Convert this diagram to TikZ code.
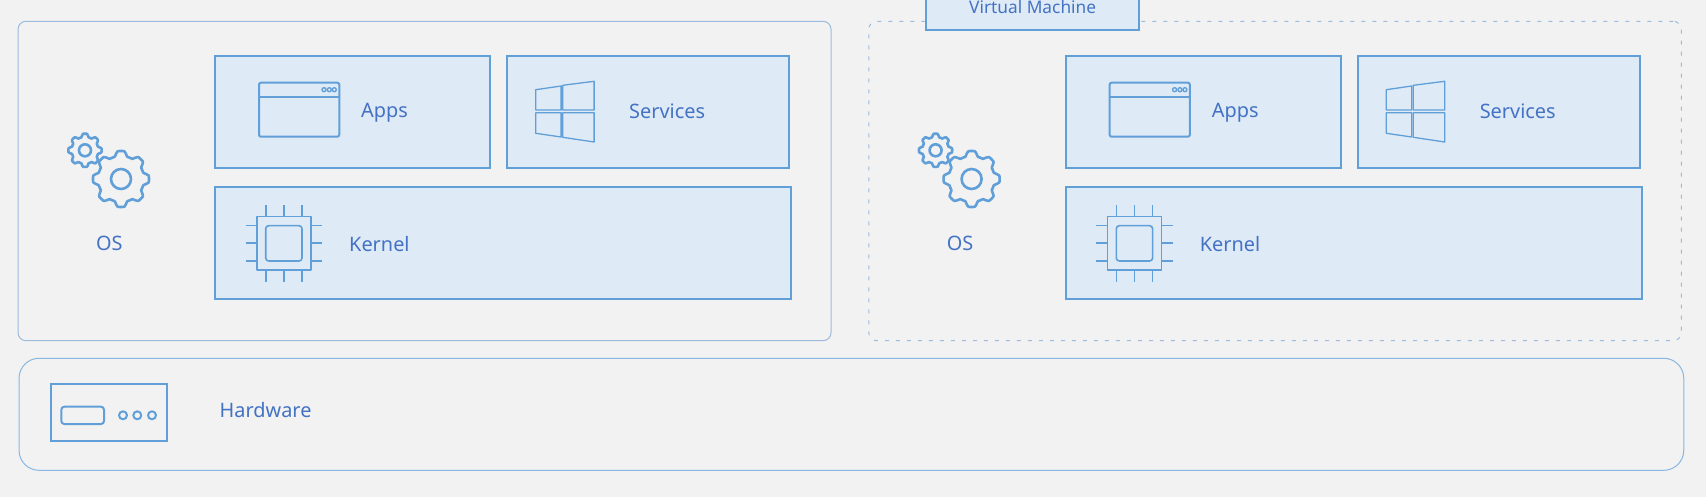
\documentclass[tikz,border=0pt]{standalone}
\usepackage{fontspec}
\setmainfont{Noto Sans}
\definecolor{pagegray}{HTML}{F2F2F2}
\definecolor{panelfill}{HTML}{DEEAF6}
\definecolor{panelblue}{HTML}{609FD8}
\definecolor{frameblue}{HTML}{9DBBDC}
\definecolor{textblue}{HTML}{4472C4}
\tikzset{
  panel/.style={draw=panelblue, fill=panelfill, line width=2pt, inner sep=0pt},
  frame/.style={draw=frameblue, line width=1pt, inner sep=0pt},
  icon/.style={draw=panelblue, line width=1.6pt, line join=round},
  gear/.style={icon, line width=2.6pt},
  tag/.style={anchor=base west, inner sep=0pt, text=textblue, font=\fontsize{19.9}{22}\selectfont}
}
\begin{document}
\begin{tikzpicture}[x=1pt,y=-1pt]
  \useasboundingbox (0,0) rectangle (1706,497);
  \clip (0,0) rectangle (1706,497);
  \fill [pagegray] (0,0) rectangle (1706,497);

  % outer frames
  \node [frame, rounded corners=8pt, minimum width=813pt, minimum height=319.4pt] (hostframe) at (424.5,181) {};
  \node [frame, rounded corners=8pt, dash pattern=on 4pt off 7pt, minimum width=812.5pt, minimum height=319.4pt] (guestframe) at (1275,181) {};
  \node [frame, draw=panelblue!75!white, rounded corners=20pt, minimum width=1664.7pt, minimum height=112pt] (hwframe) at (851.4,414.3) {};
  \node [panel, minimum width=213pt, minimum height=36.3pt] (vmbox) at (1032.5,12.15) {};
  \node [tag, font=\fontsize{17.3}{20}\selectfont] (vmtag) at (969,14) {Virtual Machine};

  % the same stack on both sides
  \foreach \osx/\osname in {0/host,850.6/guest} {
    \begin{scope}[xshift=\osx pt]
      \node [panel, minimum width=275pt, minimum height=112pt] (\osname apps) at (352.5,111.7) {};
      \node [panel, minimum width=282.3pt, minimum height=112pt] (\osname services) at (648.2,111.7) {};
      \node [panel, minimum width=576pt, minimum height=112pt] (\osname kernel) at (503,243) {};
      \node [tag] (\osname appstag) at (361,117.7) {Apps};
      \node [tag] (\osname servicestag) at (629,119) {Services};
      \node [tag] (\osname kerneltag) at (349,251.7) {Kernel};
      \node [tag] (\osname ostag) at (96,250.3) {OS};

      % gears
      \draw [gear] plot [domain=0:358.125, samples=192] ({85+(15+1.6*max(-1,min(1,1.7*cos(8*\x))))*cos(\x)},{150.3+(15+1.6*max(-1,min(1,1.7*cos(8*\x))))*sin(\x)}) -- cycle;
      \draw [gear] (85,150.3) circle (6);
      \draw [gear] plot [domain=0:358.125, samples=192] ({121+(25.5+2.5*max(-1,min(1,1.7*cos(8*\x))))*cos(\x)},{179+(25.5+2.5*max(-1,min(1,1.7*cos(8*\x))))*sin(\x)}) -- cycle;
      \draw [gear] (121,179) circle (10);

      % window
      \draw [icon, line width=2pt, rounded corners=2pt] (259,82.7) rectangle (339.3,136.7);
      \draw [icon, line width=2pt] (259,96.7) -- (339.3,96.7);
      \foreach \dotx in {324,329.3,334.3}
        \draw [icon, line width=1.4pt] (\dotx,89.7) circle (2);

      % four panes
      \draw [icon, line width=1.3pt] (535.7,89.7) -- (561.1,86) -- (561.1,110) -- (535.7,110) -- cycle;
      \draw [icon, line width=1.3pt] (562.7,85.3) -- (594.1,81.3) -- (594.1,110) -- (562.7,110) -- cycle;
      \draw [icon, line width=1.3pt] (535.7,112.7) -- (561.1,112.7) -- (561.1,137) -- (535.7,133.3) -- cycle;
      \draw [icon, line width=1.3pt] (562.7,112.7) -- (594.1,112.7) -- (594.1,142) -- (562.7,137.3) -- cycle;

      % chip
      \draw [icon] (257,216.7) rectangle (310.7,270.3);
      \draw [icon, rounded corners=3pt] (265.7,225.7) rectangle (302,261);
      \foreach \pinx in {266,284,302} {
        \draw [icon] (\pinx,205.3) -- (\pinx,216.7);
        \draw [icon] (\pinx,270.3) -- (\pinx,282);
      }
      \foreach \piny in {225.7,243.3,261} {
        \draw [icon] (245.7,\piny) -- (257,\piny);
        \draw [icon] (310.7,\piny) -- (322.3,\piny);
      }
    \end{scope}
  }

  % hardware
  \node [panel, fill=none, minimum width=116pt, minimum height=57pt] (hwbox) at (108.7,412.5) {};
  \node [tag] (hwtag) at (219.5,417.3) {Hardware};
  \draw [icon, line width=2pt, rounded corners=3pt] (61.3,406.7) rectangle (104,424);
  \foreach \ledx in {123,137.3,152}
    \draw [icon, line width=2pt] (\ledx,415.3) circle (4);
\end{tikzpicture}
\end{document}
